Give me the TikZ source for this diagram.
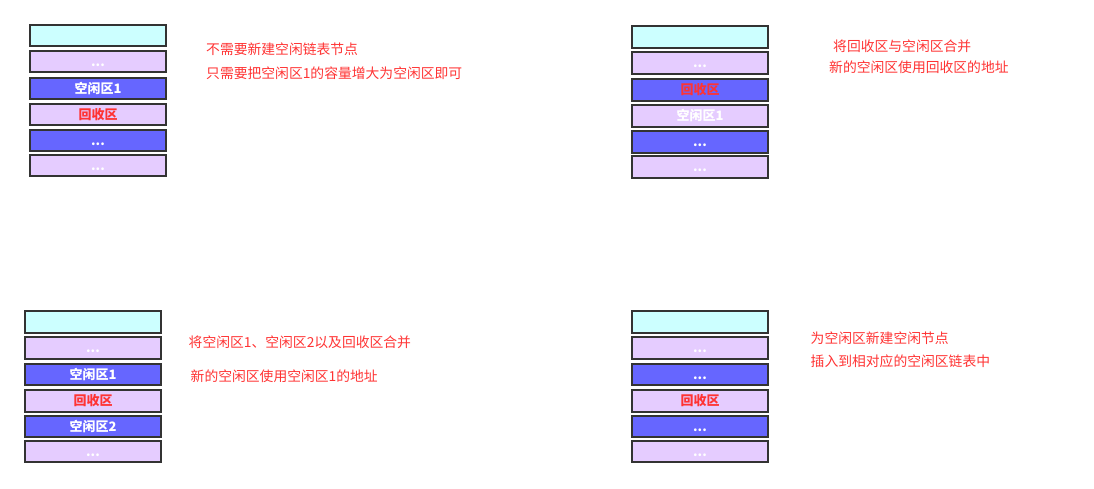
\documentclass[tikz,border=0pt]{standalone}
\usepackage{fontspec}
\newfontfamily\cjk{Noto Sans CJK SC}
\tikzset{
  blk/.style={draw=edgegray, line width=2pt, minimum width=135.5pt, minimum height=21.5pt,
    inner sep=0pt, text height=11pt, text depth=2pt, text=white,
    font=\cjk\bfseries\fontsize{13}{15}\selectfont},
  note/.style={anchor=west, inner sep=0pt, text=notered, font=\cjk\fontsize{13.8}{16}\selectfont}
}
\begin{document}
\begin{tikzpicture}[x=1pt,y=-1pt]
        \definecolor{headcyan}{RGB}{204, 255, 255}
        \definecolor{lilac}{RGB}{229, 204, 255}
        \definecolor{freeblue}{RGB}{102, 102, 255}
        \definecolor{edgegray}{RGB}{51, 51, 51}
        \definecolor{notered}{RGB}{255, 51, 51}
        \useasboundingbox (0,0) rectangle (1094,488);

        % upper left: merge with the free block above
        \node[blk, fill=headcyan] (ul1) at (98, 35.5){};
        \node[blk, fill=lilac] (ul2) at (98, 61.5){...};
        \node[blk, fill=freeblue] (ul3) at (98, 88.5){空闲区1};
        \node[blk, fill=lilac, text=notered] (ul4) at (98, 114.5){回收区};
        \node[blk, fill=freeblue] (ul5) at (98, 140.5){...};
        \node[blk, fill=lilac] (ul6) at (98, 165.5){...};
        \node[note] (ulnote1) at (206, 49.5){不需要新建空闲链表节点};
        \node[note] (ulnote2) at (206, 73.5){只需要把空闲区1的容量增大为空闲区即可};

        % upper right: merge with the free block below
        \node[blk, fill=headcyan] (ur1) at (700, 37){};
        \node[blk, fill=lilac] (ur2) at (700, 63){...};
        \node[blk, fill=freeblue, text=notered] (ur3) at (700, 90){回收区};
        \node[blk, fill=lilac] (ur4) at (700, 116){空闲区1};
        \node[blk, fill=freeblue] (ur5) at (700, 142){...};
        \node[blk, fill=lilac] (ur6) at (700, 167){...};
        \node[note] (urnote1) at (833, 46.5){将回收区与空闲区合并};
        \node[note] (urnote2) at (829, 67.5){新的空闲区使用回收区的地址};

        % lower left: free blocks on both sides
        \node[blk, fill=headcyan] (ll1) at (93, 322){};
        \node[blk, fill=lilac] (ll2) at (93, 348){...};
        \node[blk, fill=freeblue] (ll3) at (93, 374.5){空闲区1};
        \node[blk, fill=lilac, text=notered] (ll4) at (93, 401){回收区};
        \node[blk, fill=freeblue] (ll5) at (93, 426.5){空闲区2};
        \node[blk, fill=lilac] (ll6) at (93, 451.5){...};
        \node[note] (llnote1) at (188.5, 342.5){将空闲区1、空闲区2以及回收区合并};
        \node[note] (llnote2) at (190.5, 376.5){新的空闲区使用空闲区1的地址};

        % lower right: no free neighbour
        \node[blk, fill=headcyan] (lr1) at (700, 322){};
        \node[blk, fill=lilac] (lr2) at (700, 348){...};
        \node[blk, fill=freeblue] (lr3) at (700, 374.5){...};
        \node[blk, fill=lilac, text=notered] (lr4) at (700, 401){回收区};
        \node[blk, fill=freeblue] (lr5) at (700, 426.5){...};
        \node[blk, fill=lilac] (lr6) at (700, 451.5){...};
        \node[note] (lrnote1) at (810.5, 338){为空闲区新建空闲节点};
        \node[note] (lrnote2) at (810.5, 361.5){插入到相对应的空闲区链表中};
    \end{tikzpicture}
\end{document}
